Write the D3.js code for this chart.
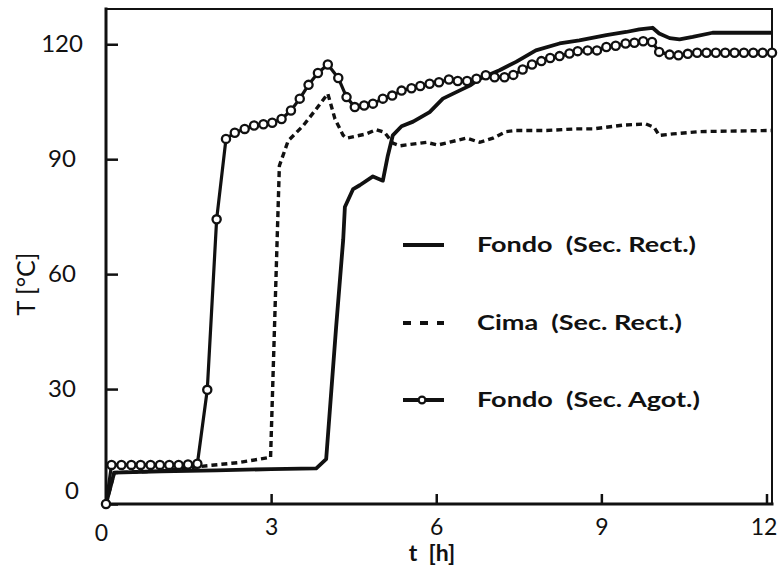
<!DOCTYPE html>
<html>
<head>
<meta charset="utf-8">
<script src="https://cdn.jsdelivr.net/npm/d3@7"></script>
<style>
  body { margin: 0; background: #fff; }
  text { font-family: Lato, "Open Sans", sans-serif; fill: #111; }
</style>
</head>
<body>
<div id="wrapper"></div>
<script>
// values: [t (h), T (°C)]
const fondoRect = [[0,0],[0.15,8.2],[1.0,8.5],[2.0,8.8],[3.0,9.1],[3.82,9.3],[4.0,11.7],[4.18,46],
  [4.31,69.1],[4.34,77.5],[4.49,82.2],[4.61,83.2],[4.85,85.5],[5.03,84.4],[5.12,90.9],[5.21,96.2],
  [5.37,98.6],[5.58,99.8],[5.88,102.3],[6.12,105.8],[6.42,107.9],[6.61,109.2],[6.79,111.0],
  [7.15,113.2],[7.45,115.4],[7.81,118.4],[8.24,120.2],[8.6,121.0],[9.09,122.4],[9.45,123.2],
  [9.69,123.9],[9.93,124.3],[10.05,122.8],[10.24,121.6],[10.42,121.3],[10.66,121.9],[11.02,123.0],
  [12.1,123.0]]

const cimaRect = [[0,0],[0.15,8.2],[1.0,8.6],[1.71,9.8],[2.4,10.8],[2.99,12.2],[3.15,88.3],
  [3.31,94.8],[3.58,98.7],[3.82,103.1],[4.03,107.1],[4.16,100.5],[4.31,96.2],[4.37,95.5],
  [4.73,96.6],[4.91,97.7],[5.06,97.0],[5.21,94.2],[5.34,93.5],[5.82,94.4],[6.03,93.7],[6.55,95.5],
  [6.79,94.4],[7.03,95.5],[7.27,97.2],[7.45,97.5],[8.0,97.5],[8.54,97.9],[8.84,97.9],[9.39,98.9],
  [9.81,99.2],[9.96,98.3],[10.05,96.2],[10.30,96.6],[10.78,97.2],[12.1,97.5]]

const fondoAgot = [[0,0],[0.10,10.2],[0.28,10.2],[0.46,10.2],[0.63,10.2],[0.81,10.2],[0.98,10.2],
  [1.15,10.2],[1.32,10.2],[1.49,10.3],[1.66,10.5],[1.84,29.8],[2.01,74.3],[2.18,95.3],[2.34,96.9],
  [2.52,97.9],[2.69,98.8],[2.86,99.1],[3.02,99.5],[3.19,100.5],[3.36,102.7],[3.52,105.8],
  [3.68,109.4],[3.85,112.5],[4.03,114.7],[4.22,111.2],[4.37,106.2],[4.52,103.6],[4.69,104.0],
  [4.85,104.5],[5.03,105.8],[5.20,106.6],[5.37,107.9],[5.55,108.5],[5.71,109.1],[5.88,109.7],
  [6.05,110.1],[6.23,110.8],[6.39,110.4],[6.56,110.4],[6.73,111.0],[6.90,111.9],[7.06,111.4],
  [7.24,111.4],[7.40,112.0],[7.57,113.4],[7.74,114.7],[7.91,115.6],[8.07,116.4],[8.24,116.9],
  [8.42,117.6],[8.57,118.2],[8.75,118.4],[8.92,118.4],[9.09,119.3],[9.26,119.6],[9.44,120.2],
  [9.60,120.4],[9.76,120.8],[9.92,120.6],[10.05,118.0],[10.24,117.3],[10.40,117.1],[10.57,117.5],
  [10.74,117.8],[10.91,117.8],[11.08,117.8],[11.25,117.8],[11.42,117.8],[11.59,117.8],[11.76,117.8],
  [11.93,117.8],[12.10,117.8]]

const xTicks = [0, 3, 6, 9, 12]
const yTicks = [0, 30, 60, 90, 120]
const legendLabels = ["Fondo  (Sec. Rect.)", "Cima  (Sec. Rect.)", "Fondo  (Sec. Agot.)"]
const xTitle = "t  [h]"
const yTitle = "T [°C]"

function drawChart() {
  const dims = { width: 782, height: 569, left: 106, right: 772, top: 9, bottom: 504 }

  const svg = d3.select("#wrapper").append("svg")
      .attr("width", dims.width)
      .attr("height", dims.height)

  const x = d3.scaleLinear().domain([0, 12.1]).range([dims.left, dims.right])
  const y = d3.scaleLinear().domain([0, 129.2]).range([dims.bottom, dims.top])

  // axes, ticks pointing inwards
  const yAxis = svg.append("g")
      .attr("transform", `translate(${dims.left},0)`)
      .call(d3.axisLeft(y).tickValues(yTicks).tickSizeInner(-12).tickSizeOuter(0))
  yAxis.select(".domain").remove()
  yAxis.selectAll(".tick line").attr("stroke", "#111").attr("stroke-width", 2.5)
  yAxis.selectAll(".tick text")
      .attr("font-size", 24)
      .attr("text-anchor", "middle")
      .attr("x", d => d === 0 ? -34 : -44)
      .attr("y", d => d === 0 ? -14 : -1)
      .attr("dy", "0.35em")

  const xAxis = svg.append("g")
      .attr("transform", `translate(0,${dims.bottom})`)
      .call(d3.axisBottom(x).tickValues(xTicks).tickSizeInner(-10).tickSizeOuter(0))
  xAxis.select(".domain").remove()
  xAxis.selectAll(".tick line").attr("stroke", "#111").attr("stroke-width", 2.5)
  xAxis.selectAll(".tick text")
      .attr("font-size", 23)
      .attr("x", d => d === 0 ? -5 : (d === 12 ? -3 : 0))
      .attr("y", d => d === 0 ? 29 : 23)
      .attr("dy", "0.35em")

  // frame
  const frame = svg.append("g").attr("stroke", "#111").attr("stroke-linecap", "square")
  frame.append("line").attr("x1", dims.left).attr("x2", dims.right)
      .attr("y1", dims.top).attr("y2", dims.top).attr("stroke-width", 2)
  frame.append("line").attr("x1", dims.right).attr("x2", dims.right)
      .attr("y1", dims.top).attr("y2", dims.bottom).attr("stroke-width", 2)
  frame.append("line").attr("x1", dims.left).attr("x2", dims.left)
      .attr("y1", dims.top).attr("y2", dims.bottom).attr("stroke-width", 3)
  frame.append("line").attr("x1", dims.left).attr("x2", dims.right)
      .attr("y1", dims.bottom).attr("y2", dims.bottom).attr("stroke-width", 3)

  // titles
  svg.append("text")
      .attr("x", 432).attr("y", 553).attr("dy", "0.35em")
      .attr("text-anchor", "middle")
      .attr("font-size", 23).attr("font-weight", "bold")
      .style("white-space", "pre")
      .text(xTitle)
  svg.append("text")
      .attr("transform", "translate(26,284) rotate(-90)")
      .attr("dy", "0.35em")
      .attr("text-anchor", "middle")
      .attr("font-size", 25)
      .text(yTitle)

  const line = d3.line().x(d => x(d[0])).y(d => y(d[1]))

  const plot = svg.append("g").attr("fill", "none").attr("stroke", "#111")
  plot.append("path").datum(cimaRect)
      .attr("d", line).attr("stroke-width", 3.4).attr("stroke-dasharray", "6,4")
  plot.append("path").datum(fondoRect)
      .attr("d", line).attr("stroke-width", 3.8).attr("stroke-linejoin", "round")
  plot.append("path").datum(fondoAgot)
      .attr("d", line).attr("stroke-width", 3.2).attr("stroke-linejoin", "round")

  svg.append("g").selectAll("circle")
      .data(fondoAgot)
      .join("circle")
      .attr("cx", d => x(d[0]))
      .attr("cy", d => y(d[1]))
      .attr("r", 4.1)
      .attr("fill", "#fff")
      .attr("stroke", "#111")
      .attr("stroke-width", 2.3)

  // legend
  const legendY = [245, 323, 400]
  const legendTextWidth = [219, 205, 223]
  const legend = svg.append("g")
  legendLabels.forEach((label, i) => {
    const g = legend.append("g").attr("transform", `translate(0,${legendY[i]})`)
    const sample = g.append("line")
        .attr("x1", 403).attr("x2", 444)
        .attr("stroke", "#111").attr("stroke-width", 3.8)
    if (i === 1) sample.attr("stroke-dasharray", "8,9")
    if (i === 2) {
      g.append("circle").attr("cx", 422).attr("r", 3.4)
          .attr("fill", "#fff").attr("stroke", "#111").attr("stroke-width", 2.2)
    }
    g.append("text")
        .attr("x", 477).attr("dy", "0.35em")
        .attr("font-family", "'Open Sans', Lato, sans-serif")
        .attr("font-size", 21).attr("font-weight", "bold")
        .attr("textLength", legendTextWidth[i])
        .attr("lengthAdjust", "spacingAndGlyphs")
        .style("white-space", "pre")
        .text(label)
  })
}

drawChart()
</script>
</body>
</html>
